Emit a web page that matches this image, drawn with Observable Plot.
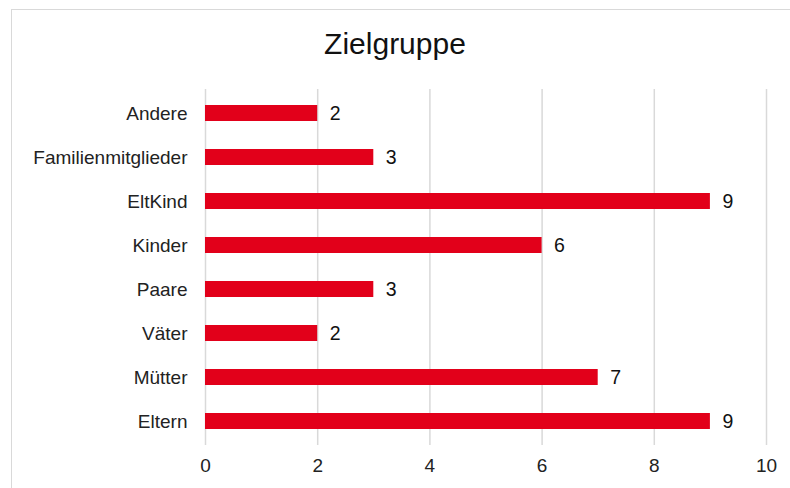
<!DOCTYPE html>
<html>
<head>
<meta charset="utf-8">
<script src="https://cdn.jsdelivr.net/npm/d3@7"></script>
<script src="https://cdn.jsdelivr.net/npm/@observablehq/plot@0.6"></script>
<style>
  html, body { margin: 0; padding: 0; background: #fff; }
  #wrap { position: relative; width: 790px; height: 488px; overflow: hidden; font-family: "Liberation Sans", Arial, sans-serif; }
  #frame { position: absolute; left: 11px; top: 9px; width: 800px; height: 500px; border: 1.5px solid #d9d9d9; box-sizing: border-box; pointer-events: none; }
  #title { position: absolute; left: 0; width: 790px; top: 27px; text-align: center; font-size: 30px; line-height: 34px; color: #111; }
  #chart { position: absolute; left: 0; top: 0; }
</style>
</head>
<body>
<div id="wrap">
  <div id="frame"></div>
  <div id="title">Zielgruppe</div>
  <div id="chart"></div>
</div>
<script>
const categories = ["Andere", "Familienmitglieder", "EltKind", "Kinder", "Paare", "Väter", "Mütter", "Eltern"];
const values = [2, 3, 9, 6, 3, 2, 7, 9];
const xTicks = [0, 2, 4, 6, 8, 10];

const data = categories.map((c, i) => ({category: c, value: values[i]}));

const chart = Plot.plot({
  width: 790,
  height: 488,
  marginLeft: 205,
  marginRight: 24,
  marginTop: 89,
  marginBottom: 43,
  style: {fontFamily: "'Liberation Sans', Arial, sans-serif", background: "transparent"},
  x: {domain: [0, 10], ticks: xTicks, label: null},
  y: {domain: categories, label: null, paddingInner: 0.64, paddingOuter: 0.32},
  marks: [
    Plot.gridX(xTicks, {stroke: "#d9d9d9", strokeOpacity: 1, strokeWidth: 1.5}),
    Plot.barX(data, {x: "value", y: "category", fill: "#e2001a"}),
    Plot.text(data, {x: "value", y: "category", text: d => String(d.value), textAnchor: "start", dx: 12, fontSize: 19.5, fill: "#111"}),
    Plot.axisX(xTicks, {tickSize: 0, tickPadding: 13, fontSize: 19, fill: "#222", label: null}),
    Plot.axisY({tickSize: 0, tickPadding: 18, fontSize: 19, fill: "#222", label: null})
  ]
});
document.getElementById("chart").appendChild(chart);
</script>
</body>
</html>
